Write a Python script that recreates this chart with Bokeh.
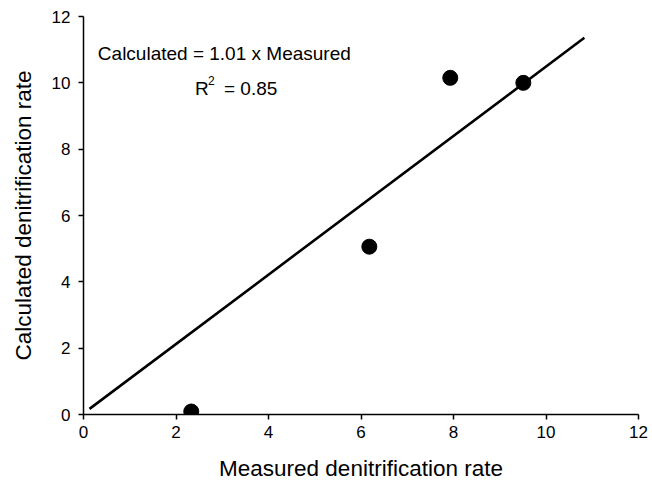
from bokeh.plotting import figure
from bokeh.models import Range1d, Label
from bokeh.embed import file_html
from bokeh.resources import INLINE

measured = [2.33, 6.18, 7.93, 9.51]
calculated = [0.09, 5.06, 10.15, 10.0]
fit_x = [0.13, 10.83]
fit_y = [0.17, 11.36]
ticks = [0, 2, 4, 6, 8, 10, 12]
eq_text = "Calculated = 1.01 x Measured"
r2_base = "R"
r2_sup = "2"
r2_rest = "= 0.85"

FONT = "Liberation Sans"

p = figure(width=652, height=484, output_backend="svg", toolbar_location=None,
           x_range=Range1d(0, 12), y_range=Range1d(0, 12),
           min_border_left=83, min_border_right=14, min_border_top=16, min_border_bottom=70)
p.xgrid.visible = False
p.ygrid.visible = False
p.outline_line_color = None
p.background_fill_color = "white"
p.border_fill_color = "white"

p.line(fit_x, fit_y, line_color="black", line_width=2.6)
p.scatter(measured, calculated, size=15, fill_color="black", line_color="black")

for ax in (p.xaxis[0], p.yaxis[0]):
    ax.ticker = ticks
    ax.axis_line_color = "black"
    ax.axis_line_width = 1.5
    ax.major_tick_line_color = "black"
    ax.major_tick_line_width = 1.5
    ax.major_tick_in = 0
    ax.major_tick_out = 5
    ax.minor_tick_line_color = None
    ax.major_label_text_font = FONT
    ax.major_label_text_font_size = "17px"
    ax.major_label_text_color = "black"
    ax.axis_label_text_font = FONT
    ax.axis_label_text_font_size = "22.5px"
    ax.axis_label_text_font_style = "normal"
    ax.axis_label_text_color = "black"

p.xaxis.axis_label = "Measured denitrification rate"
p.yaxis.axis_label = "Calculated denitrification rate"
p.xaxis.major_label_standoff = 6
p.yaxis.major_label_standoff = 8
p.xaxis.axis_label_standoff = 15
p.yaxis.axis_label_standoff = 13

common = dict(text_font=FONT, text_color="black", text_baseline="alphabetic")
p.add_layout(Label(x=0.31, y=10.87, text=eq_text, text_font_size="19px", **common))
p.add_layout(Label(x=2.41, y=9.82, text=r2_base, text_font_size="19px", **common))
p.add_layout(Label(x=2.41, y=9.82, x_offset=13, y_offset=8, text=r2_sup,
                   text_font_size="12px", **common))
p.add_layout(Label(x=2.41, y=9.82, x_offset=29, text=r2_rest, text_font_size="19px", **common))

open("out.html", "w").write(file_html(p, INLINE))
